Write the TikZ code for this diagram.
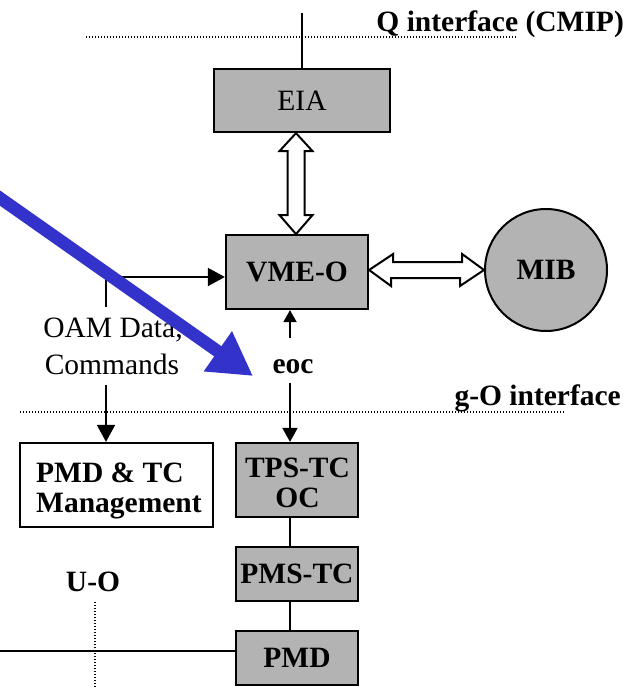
\documentclass[tikz,border=0pt]{standalone}
\usepackage{fontspec}
\setmainfont{Liberation Serif}
\usetikzlibrary{arrows.meta,calc}
\definecolor{boxgray}{RGB}{179,179,179}
\definecolor{pointerblue}{RGB}{51,51,204}
\begin{document}
\begin{tikzpicture}[x=1pt,y=-1pt,
  every node/.style={font=\fontsize{29.5}{33}\selectfont, inner sep=0pt},
  graybox/.style={draw, line width=2.2pt, fill=boxgray, inner sep=0pt},
  whitebox/.style={draw, line width=2.2pt, fill=white, inner sep=0pt},
  lbl/.style={font=\fontsize{29.5}{33}\selectfont\bfseries},
  plain/.style={font=\fontsize{29.5}{33}\selectfont},
  conn/.style={line width=1.8pt},
  arrbig/.style={conn, -{Triangle[length=17pt,width=18pt]}},
  arrsmall/.style={conn, -{Triangle[length=12pt,width=13pt]}},
  dotline/.style={line width=1.4pt, dash pattern=on 1.4pt off 1.6pt},
  hollow/.style={draw, line width=2pt, fill=white, line join=miter},
  pointer/.style={draw=pointerblue, line width=12.5pt, -{Triangle[length=43pt,width=46pt]}},
]
\useasboundingbox (0,0) rectangle (632,687);

% boxes
\node[graybox, minimum width=176pt, minimum height=63pt] (eia) at (302,100.5) {EIA};
\node[graybox, lbl, minimum width=142pt, minimum height=74pt] (vme) at (297,272) {VME-O};
\node[circle, draw, line width=2pt, fill=boxgray, minimum size=122pt, lbl] (mib) at (546,270) {MIB};
\node[whitebox, minimum width=193pt, minimum height=84pt] (mgmt) at (116.5,485) {};
\node[graybox, minimum width=122pt, minimum height=74pt] (tps) at (297,480) {};
\node[graybox, lbl, minimum width=122pt, minimum height=54pt] (pms) at (297,574) {PMS-TC};
\node[graybox, lbl, minimum width=122pt, minimum height=54pt] (pmd) at (297,658) {PMD};

% texts
\node[lbl, anchor=base east] (qtxt) at (624,32) {Q interface (CMIP)};
\node[lbl, anchor=base east] (gtxt) at (621,405) {g-O interface};
\node[lbl, anchor=base] (tps1) at (297.5,477) {TPS-TC};
\node[lbl, anchor=base] (tps2) at (297.5,507) {OC};
\node[lbl, anchor=base west] (mg1) at (36,482) {PMD \& TC};
\node[lbl, anchor=base west] (mg2) at (36,512) {Management};
\node[plain, anchor=base] (oam1) at (113,337) {OAM Data,};
\node[plain, anchor=base] (oam2) at (112,374) {Commands};
\node[lbl, anchor=base] (eoc) at (293,373) {eoc};
\node[lbl] (uo) at (93,582) {U-O};

% interface lines
\coordinate (qa) at (86,37);
\coordinate (qb) at (516,37);
\draw[dotline] (qa) -- (qb);
\coordinate (ga) at (20,412);
\coordinate (gb) at (565,412);
\draw[dotline] (ga) -- (gb);
\coordinate (ua) at (95,602);
\coordinate (ub) at (95,687);
\draw[dotline] (ua) -- (ub);

% Q line into EIA
\coordinate (qtop) at (302,13);
\draw[conn] (qtop) -- (eia.north);

% hollow double arrow EIA <-> VME-O
\path (eia.south) ++(-6,0) coordinate (vt);
\draw[hollow] (vt) -- ++(16.5,18) -- ++(-8,0) -- ++(0,64) -- ++(8,0) -- ++(-16.5,19)
  -- ++(-16.5,-19) -- ++(8,0) -- ++(0,-64) -- ++(-8,0) -- cycle;

% hollow double arrow VME-O <-> MIB
\coordinate (ht) at (vme.east |- mib.west);
\draw[hollow] (ht) -- ++(24,-16) -- ++(0,8) -- ++(69,0) -- ++(0,-8) -- (mib.west)
  -- ++(-24,16) -- ++(0,-8) -- ++(-69,0) -- ++(0,8) -- cycle;

% OAM data path
\coordinate (oamtop) at (106,307);
\coordinate (oamcorner) at (106,277);
\draw[arrbig] (oamtop) -- (oamcorner) -- ($(vme.west)+(0,5)$);
\coordinate (oambot) at (106,385);
\draw[arrbig] (oambot) -- (mgmt.north -| oambot);

% eoc path
\coordinate (eocup) at (290,338);
\draw[arrsmall] (eocup) -- (vme.south -| eocup);
\coordinate (eocdn) at (290,383);
\draw[conn, -{Triangle[length=14pt,width=15pt]}] (eocdn) -- (tps.north -| eocdn);

% stack connectors
\draw[conn] (tps.south -| eocdn) -- (pms.north -| eocdn);
\draw[conn] (pms.south -| eocdn) -- (pmd.north -| eocdn);
\coordinate (lineleft) at (0,651);
\draw[conn] (lineleft) -- (pmd.west |- lineleft);

% blue pointer
\begin{scope}
\clip (0,0) rectangle (632,687);
\coordinate (bstart) at (-8,192.5);
\coordinate (btip) at (253,376);
\draw[pointer] (bstart) -- (btip);
\end{scope}
\end{tikzpicture}
\end{document}
